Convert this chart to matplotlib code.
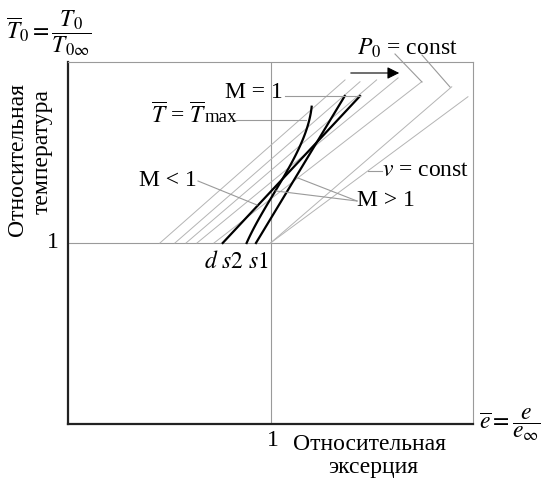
import matplotlib
matplotlib.use("Agg")
import matplotlib.pyplot as plt
import numpy as np

plt.rcParams['font.family'] = ['Liberation Serif', 'DejaVu Serif']
plt.rcParams['mathtext.fontset'] = 'stix'

# P0 = const lines: start x on the line T=1, end point
p0_start_x = [0.454, 0.528, 0.583, 0.637, 0.721]
p0_end_x = [1.368, 1.442, 1.524, 1.630, 1.747]
p0_end_y = [1.901, 1.891, 1.901, 1.912, 1.891]
# v = const lines from point (1,1): end points
v_end_x = [1.895, 1.975]
v_end_y = [1.863, 1.808]
# black curves
d_x = [0.764, 1.442]
d_y = [1.0, 1.812]
s1_x = [0.932, 1.195, 1.373]
s1_y = [1.0, 1.513, 1.812]
s2_x = [0.882, 1.020, 1.130, 1.185, 1.203]
s2_y = [1.0, 1.280, 1.500, 1.650, 1.753]

W, H = 541, 478
fig = plt.figure(figsize=(W/100, H/100), dpi=100)
L, R, T, B = 68, 473, 62, 424
ax = fig.add_axes([L/W, (H-B)/H, (R-L)/W, (B-T)/H])
ax.set_xlim(0, 2)
ax.set_ylim(0, 2)
ax.set_xticks([])
ax.set_yticks([])
grey = '#9a9a9a'
lgrey = '#b4b4b4'
for s in ['top', 'right']:
    ax.spines[s].set_color(grey)
    ax.spines[s].set_linewidth(0.8)
for s in ['left', 'bottom']:
    ax.spines[s].set_color('#222222')
    ax.spines[s].set_linewidth(1.6)

ax.axvline(1, color=grey, lw=0.8)
ax.axhline(1, color=grey, lw=0.8)

for x0, xe, ye in zip(p0_start_x, p0_end_x, p0_end_y):
    ax.plot([x0, xe], [1, ye], color=lgrey, lw=0.7)
for xe, ye in zip(v_end_x, v_end_y):
    ax.plot([1, xe], [1, ye], color=lgrey, lw=0.7)

ax.plot(d_x, d_y, color='black', lw=1.6)
ax.plot(np.polyval(np.polyfit(s1_y, s1_x, 1), s1_y), s1_y, color='black', lw=1.6)
sy = np.linspace(s2_y[0], s2_y[-1], 80)
ax.plot(np.polyval(np.polyfit(s2_y, s2_x, 3), sy), sy, color='black', lw=1.6)

fs = 17
def px(x, y):
    return ((x - L) / (R - L) * 2, (B - y) / (B - T) * 2)

def leader(p1, p2):
    a = px(*p1); b = px(*p2)
    ax.plot([a[0], b[0]], [a[1], b[1]], color=grey, lw=0.8, clip_on=False)

ax.text(*px(254, 93), 'М = 1', fontsize=fs, ha='center', va='center')
leader((285, 96), (360, 96))
ax.text(*px(206, 115), r'$\overline{T}$ = $\overline{T}$', fontsize=fs, ha='right', va='center')
ax.text(*px(205, 118), 'max', fontsize=13.5, ha='left', va='center')
leader((233, 120), (306, 120))
ax.text(*px(168, 181), 'М < 1', fontsize=fs, ha='center', va='center')
leader((198, 181), (257, 205))
ax.text(*px(386, 201), 'М > 1', fontsize=fs, ha='center', va='center')
leader((357, 201), (298, 178))
leader((357, 201), (276, 191))
ax.text(*px(426, 170), r'$\mathit{v}$ = const', fontsize=fs, ha='center', va='center')
leader((368, 171), (382, 171))
ax.text(*px(407, 48), r'$P_0$ = const', fontsize=fs, ha='center', va='center', clip_on=False)
leader((395, 54), (422, 82))
leader((422, 55), (450, 87))
a = px(348, 73); b = px(402, 73)
ax.annotate('', xy=b, xytext=a, arrowprops=dict(arrowstyle='-|>', color='black', lw=0.8, mutation_scale=18))
ax.text(*px(236, 262), r'$d\ s2\ s1$', fontsize=fs, ha='center', va='center')

fig.text(53/W, 1-243/H, '1', fontsize=fs, ha='center', va='center')
fig.text(273/W, 1-440/H, '1', fontsize=fs, ha='center', va='center')
fig.text(369/W, 1-444/H, 'Относительная', fontsize=fs, ha='center', va='center')
fig.text(373/W, 1-468/H, 'эксерция', fontsize=fs, ha='center', va='center')
fig.text(510/W, 1-425/H, r'$\overline{e} = \dfrac{e}{e_\infty}$', fontsize=fs, ha='center', va='center')
fig.text(49/W, 1-33/H, r'$\overline{T}_0 = \dfrac{T_0}{T_{0\infty}}$', fontsize=fs, ha='center', va='center')
fig.text(18/W, 1-160/H, 'Относительная', fontsize=fs, ha='center', va='center', rotation=90)
fig.text(42/W, 1-152/H, 'температура', fontsize=fs, ha='center', va='center', rotation=90)

fig.savefig('out.png', dpi=100)
